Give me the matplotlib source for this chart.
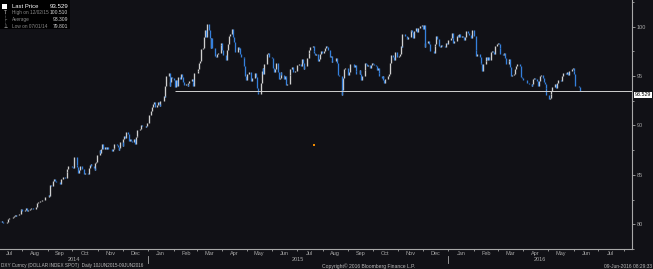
import numpy as np
import pandas as pd
import matplotlib
matplotlib.use("Agg")
import matplotlib.pyplot as plt
import matplotlib.dates as mdates
from matplotlib.patches import Rectangle
from matplotlib.transforms import blended_transform_factory

# DXY daily closes, one row per month
close_2014 = [
    79.95, 80.12, 80.32, 80.28, 80.29, 80.21, 80.16, 80.12, 80.15, 80.25, 80.52, 80.62, 80.66, 80.59, 80.69, 80.82, 80.90, 80.88, 80.95, 81.01, 81.06, 81.42, 81.50,
    81.32, 81.46, 81.65, 81.60, 81.38, 81.42, 81.53, 81.60, 81.62, 81.57, 81.57, 81.77, 82.13, 82.27, 82.22, 82.40, 82.43, 82.46, 82.43, 82.50, 82.75,
    82.79, 82.97, 82.89, 83.96, 83.90, 84.34, 84.56, 84.37, 84.26, 84.31, 84.25, 84.10, 84.62, 84.60, 84.77, 84.71, 84.64, 85.29, 85.64, 85.91, 85.88, 85.94,
    85.77, 85.68, 86.76, 86.01, 85.83, 85.23, 85.45, 85.85, 85.55, 85.58, 85.08, 85.22, 85.18, 85.06, 85.69, 86.02, 86.08, 85.88, 85.66, 85.49, 86.19, 86.28, 87.05,
    87.55, 87.21, 87.57, 88.16, 87.57, 87.85, 87.63, 87.79, 87.62, 87.58, 87.63, 87.45, 87.58, 87.73, 88.14, 88.02, 87.80, 87.50, 87.71, 88.36,
    87.92, 88.60, 88.92, 88.70, 89.35, 89.13, 88.47, 88.62, 88.38, 88.29, 88.65, 88.15, 88.78, 88.95, 89.50, 89.68, 90.05, 89.96, 89.96, 89.93, 89.83, 89.96, 90.27,
]
close_2015 = [
    90.29, 91.08, 91.51, 91.86, 92.18, 92.37, 91.88, 92.06, 92.39, 92.21, 91.97, 92.52, 92.48, 92.94, 92.88, 94.03, 95.04, 95.27, 94.04, 94.37, 94.85, 94.79,
    94.60, 93.84, 94.55, 93.95, 94.85, 94.72, 95.17, 94.85, 94.43, 94.07, 94.16, 94.21, 94.04, 94.30, 94.45, 94.74, 94.40, 94.01, 95.28, 95.34,
    95.53, 95.75, 96.33, 96.51, 97.72, 97.80, 98.93, 99.66, 98.99, 100.27, 99.65, 98.88, 97.79, 98.82, 97.86, 97.06, 96.92, 96.91, 97.24, 97.32, 98.09, 98.37,
    97.60, 97.16, 97.09, 96.66, 97.66, 98.22, 99.05, 99.29, 99.77, 98.96, 98.48, 97.45, 97.47, 97.90, 97.72, 97.82, 97.27, 96.91, 96.84, 96.04, 94.98, 94.60,
    95.24, 95.44, 95.43, 94.46, 94.80, 94.81, 95.26, 94.91, 93.78, 93.38, 93.17, 94.26, 95.46, 95.81, 95.19, 96.19, 96.21, 97.23, 97.30, 96.94, 96.91,
    96.85, 95.77, 95.37, 95.73, 96.36, 95.36, 94.74, 94.83, 95.40, 95.15, 94.71, 94.99, 94.85, 94.07, 94.22, 95.11, 95.76, 95.68, 95.94, 95.37, 95.49, 95.48,
    96.15, 96.09, 96.20, 96.05, 96.73, 96.27, 95.76, 96.02, 96.78, 96.79, 97.28, 97.64, 97.95, 98.03, 97.52, 97.30, 97.13, 97.22, 96.55, 96.74, 97.24, 97.57, 97.34,
    97.50, 97.85, 98.01, 97.96, 97.61, 96.96, 97.05, 96.37, 96.56, 96.50, 96.83, 96.83, 96.36, 95.09, 94.96, 93.12, 93.60, 94.77, 95.72, 95.82, 95.85,
    95.08, 95.38, 96.22, 96.21, 96.19, 95.89, 96.08, 95.49, 95.24, 95.21, 95.58, 95.20, 94.63, 95.00, 95.60, 96.32, 96.20, 95.98, 96.15, 95.80, 96.16, 96.36,
    96.26, 96.13, 96.03, 95.65, 95.78, 95.27, 94.99, 94.75, 94.99, 94.58, 94.28, 94.72, 94.96, 94.96, 95.18, 96.34, 97.12, 96.91, 96.64, 97.47, 97.38, 96.92,
    96.99, 97.23, 97.99, 97.93, 99.22, 99.07, 99.04, 98.86, 98.72, 98.98, 99.56, 99.64, 99.48, 98.88, 99.55, 99.83, 99.43, 99.83, 99.81, 100.03, 100.17,
    99.75, 100.21, 97.93, 98.36, 98.59, 98.21, 97.49, 97.54, 97.56, 97.31, 98.07, 98.19, 99.02, 98.73, 98.06, 97.97, 98.13, 97.99, 97.99, 97.90, 98.34, 98.24, 98.63,
]
close_2016 = [
    98.69, 98.81, 99.36, 98.86, 98.36, 98.55, 99.02, 99.16, 98.99, 99.21, 98.95, 99.07, 98.96, 98.69, 98.91, 99.53, 99.40, 99.10, 99.13, 98.86, 99.61,
    99.01, 99.02, 97.66, 96.99, 97.24, 96.96, 96.33, 96.24, 95.52, 96.19, 96.53, 96.96, 96.66, 96.91, 96.61, 97.45, 97.53, 97.38, 97.25, 98.06, 98.22,
    98.34, 98.20, 97.79, 97.25, 97.13, 97.20, 97.37, 96.80, 96.19, 96.56, 96.72, 95.95, 94.97, 95.06, 95.19, 95.67, 96.01, 96.18, 96.19, 96.02, 94.91, 94.79, 94.58,
    94.58, 94.61, 94.56, 94.34, 94.26, 94.21, 94.00, 94.15, 94.72, 94.83, 94.70, 94.47, 93.98, 94.53, 95.03, 95.09, 94.77, 94.44, 94.23, 93.77, 93.11,
    92.64, 92.79, 93.19, 93.44, 93.88, 94.15, 94.18, 93.80, 94.27, 94.64, 94.60, 94.54, 95.05, 95.28, 95.29, 95.20, 95.36, 95.14, 95.12, 95.54, 95.71, 95.86,
    95.49, 95.21, 93.94, 93.98, 93.99, 93.86, 93.53,
]

last_price = 93.529
line_start = "2015-02-03"
legend_labels = ["Last Price", "High on 12/02/15", "Average", "Low on 07/01/14"]
legend_values = ["93.529", "100.510", "93.309", "79.801"]
y_ticks = [80, 85, 90, 95, 100]
years = [2014, 2015, 2016]
marker_date, marker_value = "2015-07-22", 88.06

W, H = 653, 269
bg = "#111116"
grey = "#a8a8a8"
plt.rcParams["font.family"] = ["Liberation Sans", "DejaVu Sans"]

closes = np.array(close_2014 + close_2015 + close_2016)
dates = pd.bdate_range("2014-07-01", "2016-06-09")
n = min(len(dates), len(closes))
x = mdates.date2num(dates[:n].to_pydatetime())
closes = closes[:n]
prev = np.r_[closes[0], closes[:-1]]
up = closes >= prev

fig = plt.figure(figsize=(W / 100, H / 100), dpi=100, facecolor=bg)
ax = fig.add_axes([0, 1 - 249 / H, 632 / W, 249 / H], facecolor=bg)

# bars from previous close to close: grey up, blue down
ax.vlines(x[up], prev[up], closes[up], color="#cfcfcf", lw=0.95)
ax.vlines(x[~up], closes[~up], prev[~up], color="#3580dc", lw=0.95)

# last price line
ax.hlines(last_price, mdates.datestr2num(line_start), mdates.datestr2num("2016-08-11"),
          color="#d0d0d0", lw=0.7)
ax.scatter([mdates.datestr2num(marker_date)], [marker_value], marker="s", s=2.5,
           color="#f08a00", lw=0)

ax.set_xlim(mdates.datestr2num("2014-07-05"), mdates.datestr2num("2016-08-11"))
ax.set_ylim(77.91, 102.69)

for s in ["top", "left"]:
    ax.spines[s].set_visible(False)
for s in ["right", "bottom"]:
    ax.spines[s].set_color(grey)
    ax.spines[s].set_linewidth(0.8)

ax.yaxis.tick_right()
ax.set_yticks(y_ticks)
ax.set_yticks(np.arange(77.5, 102.6, 2.5), minor=True)
ax.tick_params(axis="y", which="major", colors=grey, labelsize=4.0, length=2, width=0.6, pad=1.5)
ax.tick_params(axis="y", which="minor", colors=grey, length=1.2, width=0.6)

ax.xaxis.set_major_locator(mdates.MonthLocator(bymonthday=16))
ax.xaxis.set_major_formatter(mdates.DateFormatter("%b"))
ax.xaxis.set_minor_locator(mdates.MonthLocator())
ax.tick_params(axis="x", which="major", colors=grey, labelsize=4.0, length=0, pad=1.5)
ax.tick_params(axis="x", which="minor", colors=grey, length=1.5, width=0.6)

# year row under the month labels
trans = blended_transform_factory(ax.transData, fig.transFigure)
xmin, xmax = ax.get_xlim()
for yr in years:
    a = max(mdates.datestr2num(f"{yr}-01-01"), xmin)
    b = min(mdates.datestr2num(f"{yr + 1}-01-01"), xmax)
    fig.text((a + b) / 2, 1 - 259.5 / H, str(yr), transform=trans, ha="center", va="center",
             fontsize=4.0, color=grey)
    if yr > years[0]:
        fig.lines.append(plt.Line2D([a, a], [1 - 256 / H, 1 - 263 / H], transform=trans,
                                    color=grey, lw=0.6))

# legend box
fig.patches.append(Rectangle((0, 1 - 29 / H), 70 / W, 29 / H, transform=fig.transFigure,
                             facecolor="#000000", edgecolor="none"))
fig.patches.append(Rectangle((2 / W, 1 - 8.5 / H), 5 / W, 5 / H, transform=fig.transFigure,
                             facecolor="#ffffff", edgecolor="none"))
fig.lines.append(plt.Line2D([4.5 / W, 4.5 / W], [1 - 10 / H, 1 - 27 / H], transform=fig.transFigure,
                            color="#707070", lw=0.5, ls=(0, (1, 1))))
icons = ["", "T", "\u2013", "\u22a5"]
for i, (lab, val) in enumerate(zip(legend_labels, legend_values)):
    yy = 1 - (6 + 6.7 * i) / H
    col = "#ffffff" if i == 0 else "#8c8c8c"
    fs = 4.2 if i == 0 else 3.4
    fig.text(12 / W, yy, lab, ha="left", va="center", fontsize=fs, color=col)
    fig.text(68 / W, yy, val, ha="right", va="center", fontsize=fs + 0.2,
             color="#ffffff" if i == 0 else "#d0d0d0")
    if icons[i]:
        fig.text(5.5 / W, yy, icons[i], ha="center", va="center", fontsize=3.4, color="#b0b0b0",
                 family="DejaVu Sans")

# last value tag on the axis
fig.text(634.5 / W, 1 - 95 / H, "93.529", ha="left", va="center", fontsize=3.8, color="#000000",
         bbox=dict(boxstyle="square,pad=0.12", facecolor="#ffffff", edgecolor="none"))

# footer
fig.text(1 / W, 1 - 266 / H, "DXY Curncy (DOLLAR INDEX SPOT)  Daily 10JUN2015-09JUN2016",
         ha="left", va="center", fontsize=3.3, color="#bdbdbd")
fig.text(322 / W, 1 - 266 / H, "Copyright\u00a9 2016 Bloomberg Finance L.P.",
         ha="left", va="center", fontsize=3.6, color="#bdbdbd")
fig.text(652 / W, 1 - 266 / H, "09-Jun-2016 08:29:33",
         ha="right", va="center", fontsize=3.5, color="#bdbdbd")

fig.savefig("out.png", dpi=100, facecolor=bg)
